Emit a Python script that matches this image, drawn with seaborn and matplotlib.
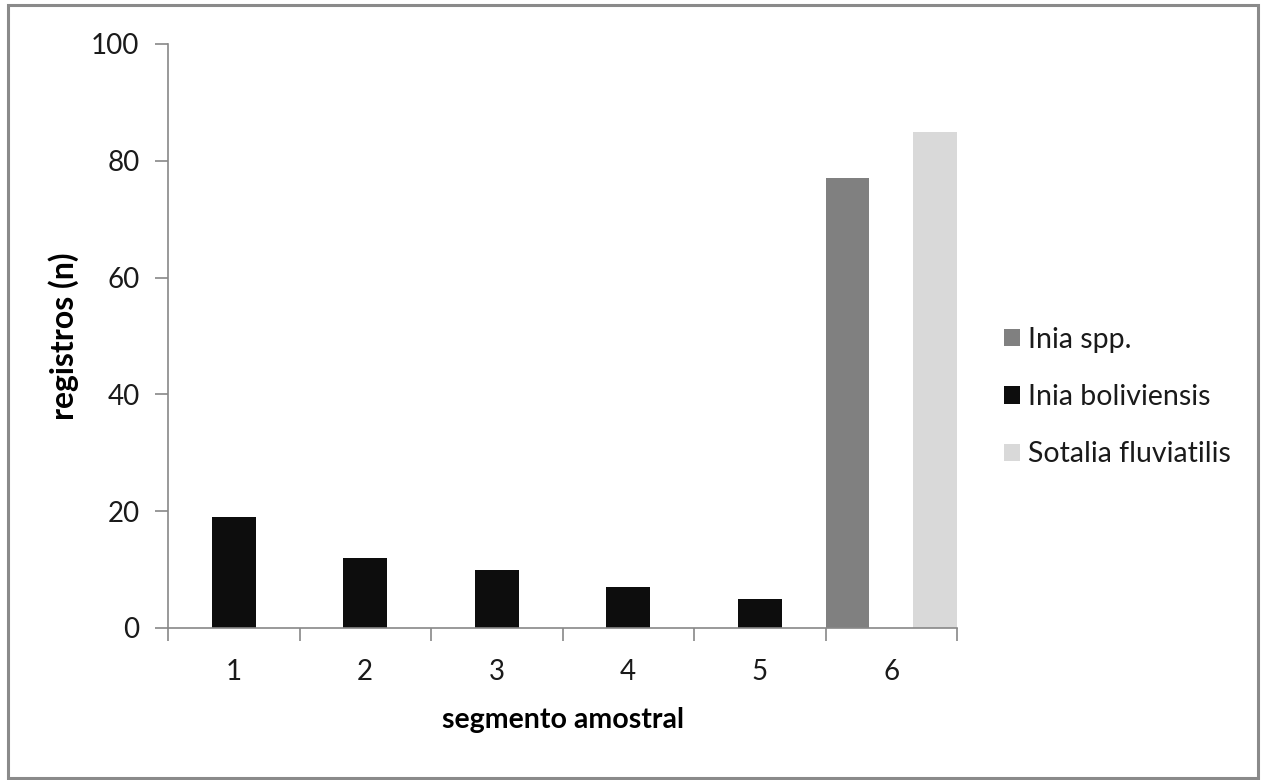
import matplotlib
matplotlib.use("Agg")
import matplotlib.pyplot as plt
import seaborn as sns
import pandas as pd
from matplotlib.patches import Rectangle

segments = ["1", "2", "3", "4", "5", "6"]
inia_spp = [0, 0, 0, 0, 0, 77]
inia_boliviensis = [19, 12, 10, 7, 5, 0]
sotalia_fluviatilis = [0, 0, 0, 0, 0, 85]
series_names = ["Inia spp.", "Inia boliviensis", "Sotalia fluviatilis"]
series_colors = ["#808080", "#0d0d0d", "#d9d9d9"]
y_ticks = [0, 20, 40, 60, 80, 100]

rows = []
for name, vals in zip(series_names, [inia_spp, inia_boliviensis, sotalia_fluviatilis]):
    for s, v in zip(segments, vals):
        rows.append({"segmento": s, "registros": v, "serie": name})
df = pd.DataFrame(rows)

sns.set_theme(style="white")
plt.rcParams['font.family'] = ['Lato', 'DejaVu Sans']

fig = plt.figure(figsize=(12.63, 7.8), dpi=100)
ax = fig.add_axes([168/1263, 1 - 628/780, (957-168)/1263, (628-44)/780])

sns.barplot(data=df, x="segmento", y="registros", hue="serie",
            order=segments, hue_order=series_names,
            palette=dict(zip(series_names, series_colors)),
            width=1.0, linewidth=0, saturation=1, ax=ax, errorbar=None)

ax.set_xlim(-0.5, 5.5)
ax.set_ylim(0, 100)
ax.set_yticks(y_ticks)
ax.set_yticklabels([str(t) for t in y_ticks], fontsize=20, color="#1a1a1a")
ax.set_xticks(range(len(segments)))
ax.set_xticklabels(segments, fontsize=20, color="#1a1a1a")
ax.set_xticks([i - 0.5 for i in range(len(segments) + 1)], minor=True)

spine_c = "#888888"
for side in ["top", "right"]:
    ax.spines[side].set_visible(False)
for side in ["left", "bottom"]:
    ax.spines[side].set_color(spine_c)
    ax.spines[side].set_linewidth(1.2)

ax.tick_params(axis="y", which="major", direction="out", length=9.5, width=1.2,
               color=spine_c, pad=11, left=True)
ax.tick_params(axis="x", which="major", length=0, pad=22)
ax.tick_params(axis="x", which="minor", direction="out", length=9, width=1.2,
               color=spine_c, bottom=True)

ax.set_ylabel("registros (n)", fontsize=23, fontweight="bold", color="#000000")
ax.yaxis.set_label_coords((79 - 168) / 789, 0.5)
ax.set_xlabel("segmento amostral", fontsize=20.5, fontweight="bold", color="#000000", labelpad=16)

leg = ax.legend(loc="center left", bbox_to_anchor=(1004/1263, 1 - 397/780),
                bbox_transform=fig.transFigure, frameon=False, fontsize=20.5,
                handlelength=0.56, handleheight=0.56, handletextpad=0.28,
                labelspacing=1.1, borderaxespad=0, borderpad=0)
for t in leg.get_texts():
    t.set_color("#1a1a1a")

fig.patches.append(Rectangle((8/1263, 2/780), (1258-8)/1263, (775-2)/780, transform=fig.transFigure,
                             fill=False, edgecolor="#8a8a8a", linewidth=2.2))

fig.savefig("out.png", dpi=100, facecolor="white")
